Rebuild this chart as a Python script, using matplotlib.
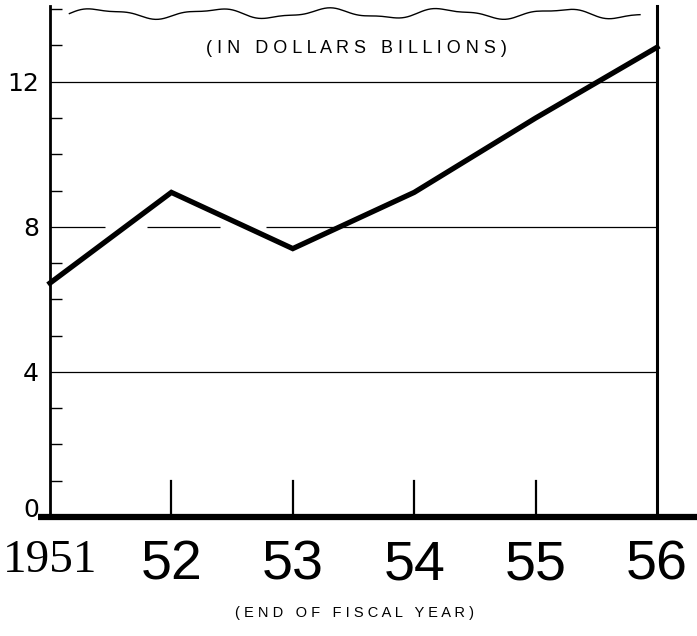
import numpy as np
import matplotlib.pyplot as plt

# values (dollars, billions)
years = [1951, 1952, 1953, 1954, 1955, 1956]
year_labels = ['1951', '52', '53', '54', '55', '56']
values = [6.45, 8.95, 7.4, 8.95, 11.0, 12.95]
y_labels = ['0', '4', '8', '12']

plt.rcParams['font.family'] = ['Liberation Sans', 'DejaVu Sans']

fig = plt.figure(figsize=(6.97, 6.36), dpi=100)
ax = fig.add_axes((0.0717, 0.1871, 0.8709, 0.8098))
ax.set_xlim(1951, 1956)
ax.set_ylim(0, 14.2)

# grid lines (the 8 line is broken up on the left in the original)
ax.hlines([4, 12], 1951, 1956, color='black', lw=0.9)
ax.hlines([8, 8, 8], [1951, 1951.8, 1952.78], [1951.45, 1952.4, 1956], color='black', lw=0.9)

# main line
ax.plot(years, values, color='black', lw=3.8, solid_joinstyle='miter', clip_on=False, zorder=5)

# short vertical markers at each year along the base
for yr in years[1:-1]:
    ax.plot([yr, yr], [0, 1.0], color='black', lw=1.6)

# thick base line running past both sides
ax.plot([1950.9, 1956.33], [0, 0], color='black', lw=4.5, clip_on=False, solid_capstyle='butt', zorder=6)

# wavy break line on top
wx = np.linspace(1951.16, 1955.86, 200)
wy = 13.88 + 0.12 * np.sin((wx - 1951.16) * 2 * np.pi / 0.95) + 0.04 * np.sin((wx - 1951.16) * 2 * np.pi / 0.41)
ax.plot(wx, wy, color='black', lw=1.0)

for s in ['top', 'bottom']:
    ax.spines[s].set_visible(False)
ax.spines['left'].set_linewidth(2.0)
ax.spines['right'].set_linewidth(2.2)
ax.spines['left'].set_bounds(0, 14.1)
ax.spines['right'].set_bounds(0, 14.1)

ax.set_yticks([0, 4, 8, 12])
ax.set_yticklabels(y_labels, fontsize=18, family='DejaVu Sans')
ax.set_yticks([1, 2, 3, 5, 6, 7, 9, 10, 11, 13, 14], minor=True)
ax.tick_params(axis='y', which='major', length=0, pad=8)
ax.tick_params(axis='y', which='minor', direction='in', length=8.5, width=1.0)
ax.get_yticklabels()[0].set_va('baseline')

ax.set_xticks(years)
ax.set_xticklabels(year_labels, fontsize=40)
ax.tick_params(axis='x', length=0, pad=16)
ax.get_xticklabels()[0].set_fontfamily('Liberation Serif')
ax.get_xticklabels()[0].set_fontsize(34)

ax.text(0.505, 0.91, '( I N   D O L L A R S   B I L L I O N S )', transform=ax.transAxes,
        ha='center', va='center', fontsize=13)
fig.text(0.508, 0.036, '( E N D   O F   F I S C A L   Y E A R )', ha='center', va='center', fontsize=10.5)

fig.savefig('out.png', dpi=100)
